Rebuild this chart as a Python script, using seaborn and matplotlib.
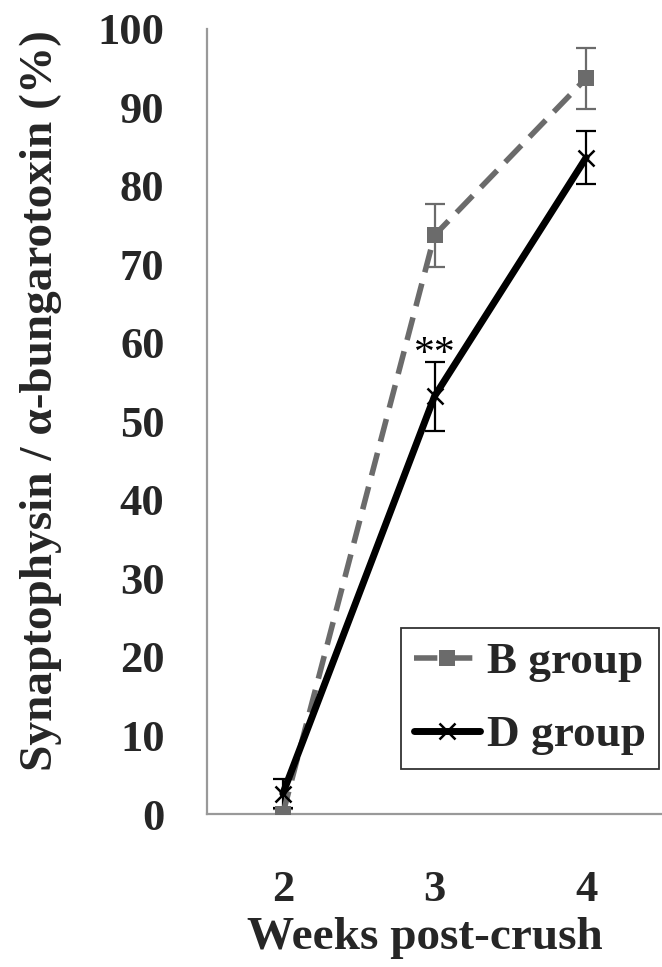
import matplotlib
matplotlib.use("Agg")
import matplotlib.pyplot as plt
import seaborn as sns
import pandas as pd
import numpy as np

weeks = ["2", "3", "4"]
b_group = [0.0, 73.7, 93.7]
b_err = [0.6, 4.0, 3.9]
d_group = [2.6, 53.2, 83.6]
d_err = [1.8, 4.4, 3.4]

sns.set_theme(style="white")
plt.rcParams['font.family'] = ['Liberation Serif', 'DejaVu Serif']
plt.rcParams['font.weight'] = 'bold'

df = pd.DataFrame({
    "x": list(range(len(weeks))) * 2,
    "value": b_group + d_group,
    "group": ["B group"] * 3 + ["D group"] * 3,
})

fig = plt.figure(figsize=(6.62, 9.67), dpi=100)
ax = fig.add_axes([0.3127, 0.1582, 0.6873, 0.812])

xpos = np.arange(len(weeks))
gray = "#6b6b6b"
ax.errorbar(xpos, b_group, yerr=b_err, fmt="none", ecolor=gray, elinewidth=1.6, capsize=7, capthick=1.6, zorder=2)
ax.errorbar(xpos, d_group, yerr=d_err, fmt="none", ecolor="black", elinewidth=1.6, capsize=7, capthick=1.6, zorder=2)

sns.lineplot(data=df[df.group == "B group"], x="x", y="value", ax=ax, color=gray,
             linewidth=4.0, marker="s", markersize=11, markeredgewidth=0,
             label="B group", zorder=3)
ax.lines[-1].set_dashes([4.2, 2.1])
sns.lineplot(data=df[df.group == "D group"], x="x", y="value", ax=ax, color="black",
             linewidth=5.0, marker="x", markersize=12, markeredgewidth=1.8,
             markeredgecolor="black", label="D group", zorder=4)

ax.text(1, 57.2, "**", ha="center", va="baseline", fontsize=30, fontweight="normal", color="black")

ax.set_xlim(-0.5, 2.5)
ax.set_ylim(0, 100)
ax.set_yticks(range(0, 101, 10))
ax.set_yticklabels([str(v) for v in range(0, 101, 10)], fontsize=32, fontweight="bold")
ax.set_xticks(xpos)
ax.set_xticklabels(weeks, fontsize=32, fontweight="bold")
ax.set_xticks([-0.5, 0.5, 1.5, 2.5], minor=True)
ax.tick_params(axis="x", which="major", length=0, pad=40)
ax.tick_params(axis="x", which="minor", length=10, width=1.4, color="#999999", direction="out")
ax.tick_params(axis="y", which="major", length=9, width=1.4, color="#999999", direction="out", pad=21.6)

for s in ["top", "right"]:
    ax.spines[s].set_visible(False)
for s in ["left", "bottom"]:
    ax.spines[s].set_color("#999999")
    ax.spines[s].set_linewidth(1.6)

ax.set_xlabel("Weeks post-crush", fontsize=34, fontweight="bold")
ax.xaxis.set_label_coords(0.478, -0.131)
ax.set_ylabel("Synaptophysin / α-bungarotoxin (%)", fontsize=34, fontweight="bold")
ax.yaxis.set_label_coords(-0.318, 0.527)

leg = ax.legend(loc="lower right", bbox_to_anchor=(659 / 662, 1 - 769 / 967),
                bbox_transform=fig.transFigure, fontsize=32.5,
                frameon=True, fancybox=False, edgecolor="black", handlelength=1.45,
                handletextpad=0.15, borderpad=0.3, labelspacing=0.72, borderaxespad=0)
leg.get_frame().set_linewidth(1.3)
for t in leg.get_texts():
    t.set_fontweight("bold")

fig.savefig("out.png", dpi=100)
